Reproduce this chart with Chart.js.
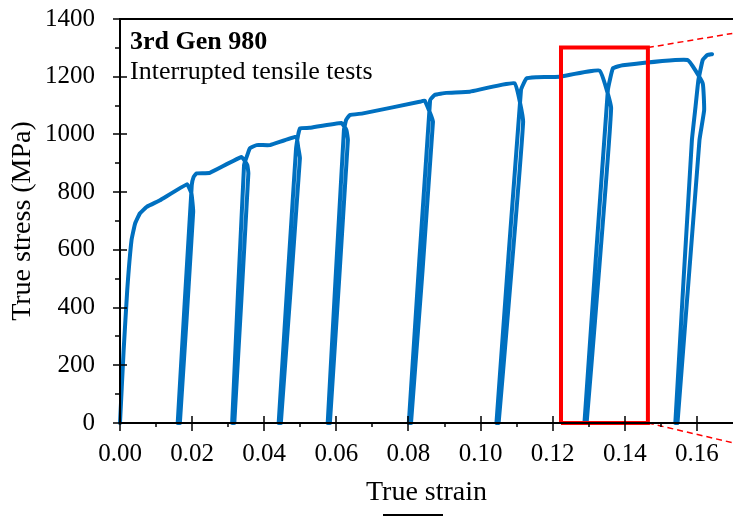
<!DOCTYPE html>
<html>
<head>
<meta charset="utf-8">
<title>True stress vs true strain</title>
<script src="https://cdn.jsdelivr.net/npm/chart.js@4.4.1/dist/chart.umd.min.js"></script>
<style>
  body { margin: 0; background: #fff; }
  #wrap { position: relative; width: 733px; height: 516px; overflow: hidden; }
  canvas { display: block; }
  .cut { position: absolute; left: 383px; top: 514px; width: 60px; height: 2px; background: #000; }
</style>
</head>
<body>
<div id="wrap">
  <canvas id="chart" width="733" height="516"></canvas>
  <div class="cut"></div>
</div>
<script>
// interrupted tensile test path (loading / unloading / reloading)
const strain = [
  0, 0.0010, 0.0020, 0.0032, 0.0042, 0.0055, 0.0074, 0.0111, 0.0186, 0.0198, 0.0203,
  0.0166, 0.0160, 0.0199, 0.0204, 0.0212, 0.0249, 0.0337, 0.0353, 0.0356,
  0.0317, 0.0311, 0.0344, 0.0353, 0.0360, 0.0379, 0.0416, 0.0489, 0.0494, 0.0499,
  0.0446, 0.0440, 0.0488, 0.0494, 0.0499, 0.0526, 0.0614, 0.0628, 0.0632,
  0.0582, 0.0576, 0.0621, 0.0627, 0.0637, 0.0674, 0.0831, 0.0845, 0.0868,
  0.0807, 0.0801, 0.0860, 0.0873, 0.0905, 0.0970, 0.1094, 0.1118,
  0.1050, 0.1044, 0.1112, 0.1127, 0.1154, 0.1219, 0.1330, 0.1362,
  0.1294, 0.1288, 0.1353, 0.1367, 0.1394, 0.1574, 0.1616, 0.1620, 0.1607,
  0.1546, 0.1540, 0.1586, 0.1596, 0.1604, 0.1616, 0.1629, 0.1642
];
const stress = [
  0, 250, 460, 634, 692, 726, 749, 772, 827, 796, 732,
  0, 0, 824, 852, 865, 867, 922, 894, 865,
  0, 0, 894, 928, 952, 963, 963, 992, 957, 918,
  0, 0, 947, 998, 1021, 1023, 1040, 1015, 981,
  0, 0, 1015, 1050, 1067, 1073, 1113, 1117, 1044,
  0, 0, 1119, 1137, 1144, 1148, 1177, 1044,
  0, 0, 1154, 1194, 1198, 1200, 1221, 1090,
  0, 0, 1154, 1229, 1240, 1258, 1177, 1084, 980,
  0, 0, 980, 1095, 1188, 1258, 1275, 1278
];

// zoom box and its leader lines
const boxStrain = [0.1223, 0.1223, 0.1464, 0.1464, 0.1223];
const boxStress = [0, 1301, 1301, 0, 0];
const leaderStrain = [0.1464, 0.1698];
const leaderTopStress = [1301, 1350];
const leaderBottomStress = [0, -68];

const xTicks = [0, 0.02, 0.04, 0.06, 0.08, 0.10, 0.12, 0.14, 0.16];
const xMinor = [0.01, 0.03, 0.05, 0.07, 0.09, 0.11, 0.13, 0.15];
const yTicks = [0, 200, 400, 600, 800, 1000, 1200, 1400];
const yMinor = [100, 300, 500, 700, 900, 1100, 1300];

const serif = '"Liberation Serif", "Times New Roman", serif';

function pts(xs, ys) {
  return xs.map((x, i) => ({ x: x, y: ys[i] }));
}

const frame = {
  id: 'frame',
  afterDatasetsDraw(chart) {
    const { ctx, chartArea: a, scales: { x, y } } = chart;
    ctx.save();
    ctx.strokeStyle = '#000';
    ctx.lineWidth = 2;
    ctx.beginPath();
    ctx.moveTo(a.left, a.top); ctx.lineTo(a.right, a.top);
    ctx.moveTo(a.left, a.top - 1); ctx.lineTo(a.left, a.bottom + 1);
    ctx.moveTo(a.left - 1, a.bottom); ctx.lineTo(a.right, a.bottom);
    ctx.stroke();

    ctx.lineWidth = 1.5;
    ctx.beginPath();
    yTicks.forEach(v => {
      const p = Math.round(y.getPixelForValue(v));
      ctx.moveTo(a.left - 7, p); ctx.lineTo(a.left + 7, p);
    });
    yMinor.forEach(v => {
      const p = Math.round(y.getPixelForValue(v));
      ctx.moveTo(a.left - 5, p); ctx.lineTo(a.left, p);
    });
    xTicks.forEach(v => {
      const p = Math.round(x.getPixelForValue(v));
      ctx.moveTo(p, a.bottom - 7); ctx.lineTo(p, a.bottom + 8);
    });
    xMinor.forEach(v => {
      const p = Math.round(x.getPixelForValue(v));
      ctx.moveTo(p, a.bottom); ctx.lineTo(p, a.bottom + 4);
    });
    ctx.stroke();

    ctx.fillStyle = '#000';
    ctx.textAlign = 'left';
    ctx.textBaseline = 'alphabetic';
    ctx.font = 'bold 26px ' + serif;
    ctx.fillText('3rd Gen 980', a.left + 10, 49);
    ctx.font = '26px ' + serif;
    ctx.fillText('Interrupted tensile tests', a.left + 10, 79);
    ctx.restore();
  }
};

new Chart(document.getElementById('chart'), {
  type: 'scatter',
  data: {
    datasets: [
      {
        data: pts(boxStrain, boxStress),
        showLine: true,
        borderColor: '#FF0000',
        borderWidth: 4,
        pointRadius: 0,
        borderJoinStyle: 'miter',
        clip: false
      },
      {
        data: pts(leaderStrain, leaderTopStress),
        showLine: true,
        borderColor: '#FF0000',
        borderWidth: 1.5,
        borderDash: [6, 4],
        pointRadius: 0,
        clip: false
      },
      {
        data: pts(leaderStrain, leaderBottomStress),
        showLine: true,
        borderColor: '#FF0000',
        borderWidth: 1.5,
        borderDash: [6, 4],
        pointRadius: 0,
        clip: false
      },
      {
        data: pts(strain, stress),
        showLine: true,
        borderColor: '#0070C0',
        borderWidth: 4,
        pointRadius: 0,
        tension: 0.1,
        borderJoinStyle: 'round',
        borderCapStyle: 'round',
        clip: false
      }
    ]
  },
  options: {
    responsive: false,
    animation: false,
    devicePixelRatio: 1,
    layout: { padding: { top: 19, right: 0, left: 0, bottom: 0 } },
    plugins: {
      legend: { display: false },
      tooltip: { enabled: false }
    },
    scales: {
      x: {
        type: 'linear',
        min: 0,
        max: 0.17,
        border: { display: false },
        grid: { display: false, drawTicks: false },
        afterFit: s => { s.height = 93; s.paddingLeft = 0; s.paddingRight = 0; },
        afterBuildTicks: s => { s.ticks = xTicks.map(v => ({ value: v })); },
        ticks: {
          includeBounds: false,
          autoSkip: false,
          maxRotation: 0,
          padding: 16,
          color: '#000',
          font: { family: serif, size: 25 },
          callback: v => v.toFixed(2)
        },
        title: {
          display: true,
          text: 'True strain',
          color: '#000',
          font: { family: serif, size: 28 },
          padding: { top: 0, bottom: 7 }
        }
      },
      y: {
        type: 'linear',
        min: 0,
        max: 1400,
        border: { display: false },
        grid: { display: false, drawTicks: false },
        afterFit: s => { s.width = 120; s.paddingTop = 0; s.paddingBottom = 0; },
        afterBuildTicks: s => { s.ticks = yTicks.map(v => ({ value: v })); },
        ticks: {
          autoSkip: false,
          padding: 25,
          color: '#000',
          font: { family: serif, size: 25 },
          callback: v => String(v)
        },
        title: {
          display: true,
          text: 'True stress (MPa)',
          color: '#000',
          font: { family: serif, size: 28 },
          padding: { top: 6, bottom: 0 }
        }
      }
    }
  },
  plugins: [frame]
});
</script>
</body>
</html>
